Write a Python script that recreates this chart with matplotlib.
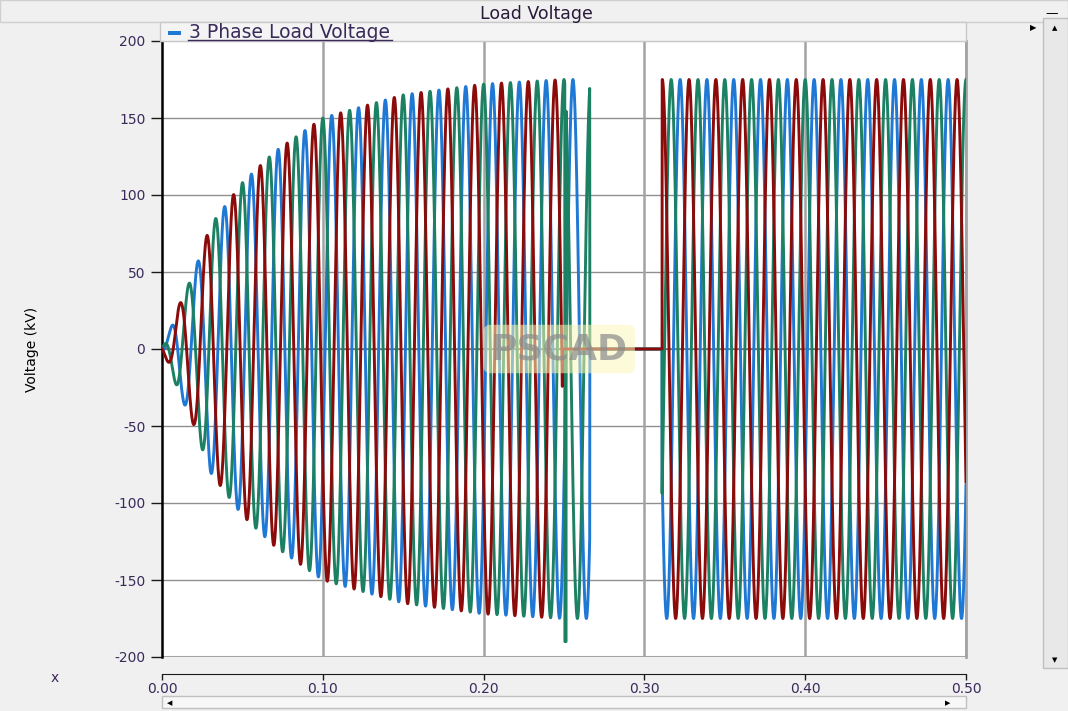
"""
PSCAD-style 3 phase load voltage plot
"""
import numpy as np
import matplotlib.pyplot as plt
from matplotlib.patches import Rectangle

freq = 60.0                      # Hz, ~27 px per cycle
env_t = [0.0, 0.005, 0.01, 0.02, 0.03, 0.05, 0.07, 0.10, 0.15, 0.20, 0.25, 0.27]
env_kv = [0.0, 12, 27, 50, 80, 108, 128, 150, 165, 172, 175, 175]
steady_kv = 175.0
t_open = {'A': 0.266, 'B': 0.249, 'C': 0.266}   # phase drops out
t_reclose = 0.311
phase_deg = {'A': -30, 'B': -150, 'C': 90}
phase_color = {'A': '#1f78d4', 'B': '#8b0a0a', 'C': '#1c8063'}
dip_t = 0.2505
dip_kv = -190.0

yticks = [200, 150, 100, 50, 0, -50, -100, -150, -200]
xticks = [0.0, 0.1, 0.2, 0.3, 0.4, 0.5]

t = np.arange(0, 0.5, 2e-5)
amp = np.where(t < t_reclose, np.interp(t, env_t, env_kv), steady_kv)

fig = plt.figure(figsize=(10.68, 7.11), dpi=100, facecolor='#f0f0f0')
ax = fig.add_axes([162/1068, 1 - 657/711, 804/1068, 616/711])
ax.set_facecolor('white')

for ph in ['A', 'C', 'B']:
    v = amp * np.sin(2*np.pi*freq*t + np.deg2rad(phase_deg[ph]))
    v[(t >= t_open[ph]) & (t < t_reclose)] = 0.0
    if ph == 'C':
        i = np.searchsorted(t, dip_t)
        v[i:i+40] = np.minimum(v[i:i+40], dip_kv)
    ax.plot(t, v, color=phase_color[ph], lw=2.1, zorder=3)

ax.set_xlim(0, 0.5)
ax.set_ylim(-200, 200)
ax.set_yticks(yticks)
ax.set_xticks(xticks)
ax.set_yticklabels([str(y) for y in yticks])
ax.set_xticklabels([f"{x:.2f}" for x in xticks])
ax.tick_params(axis='both', colors='#1a1a1a', labelcolor='#3a2a5a', labelsize=10)
ax.tick_params(axis='y', length=8, width=1, pad=4)
ax.tick_params(axis='x', length=4, width=1, pad=2, direction='out')

for y in yticks[1:-1]:
    ax.axhline(y, color='#8f8f8f', lw=1, zorder=1)
for x in xticks[1:]:
    ax.axvline(x, color='#a3a3a3', lw=1.8, zorder=1)
ax.axhline(-200, color='#a3a3a3', lw=1.5, zorder=1)
ax.axhline(0, color='#707070', lw=1.2, zorder=1)

ax.spines['left'].set_color('black')
ax.spines['left'].set_linewidth(1.8)
ax.spines['top'].set_color('#b0b0b0')
ax.spines['right'].set_color('#a3a3a3')
ax.spines['right'].set_linewidth(2)
ax.spines['bottom'].set_position(('outward', 12))
ax.spines['bottom'].set_color('#1a1a1a')

fig.text(32/1068, 1 - 349/711, 'Voltage (kV)', rotation=90, ha='center', va='center',
         fontsize=10, color='black', family=['Liberation Sans Narrow', 'DejaVu Sans'])

# watermark
ax.text(0.247, 0, 'PSCAD', fontsize=26, fontweight='bold', color='#8a8a8a', alpha=0.7,
        ha='center', va='center', zorder=4,
        bbox=dict(boxstyle='round,pad=0.2', fc='#faf6b8', ec='none', alpha=0.55))

# window chrome
fig.patches.append(Rectangle((0, 1 - 22/711), 1, 22/711, transform=fig.transFigure,
                             fc='#f0f0f0', ec='#d0d0d0', lw=1))
fig.patches.append(Rectangle((160/1068, 1 - 41/711), 806/1068, 19/711,
                             transform=fig.transFigure, fc='#f4f4f4', ec='#c8c8c8', lw=1))
fig.text(536/1068, 1 - 14/711, 'Load Voltage', ha='center', va='center',
         fontsize=12.5, color='#2a1a3a')
fig.patches.append(Rectangle((168/1068, 1 - 35/711), 13/1068, 4/711,
                             transform=fig.transFigure, fc='#1f78d4', ec='none'))
fig.text(189/1068, 1 - 32/711, '3 Phase Load Voltage', ha='left', va='center',
         fontsize=13.5, color='#3a2a5a')
fig.add_artist(plt.Line2D([188/1068, 392/1068], [1 - 40/711, 1 - 40/711],
                          color='#3a2a5a', lw=1))
fig.text(55/1068, 1 - 678/711, 'x', ha='center', va='center', fontsize=10, color='#3a2a5a')

# scrollbars
fig.patches.append(Rectangle((1043/1068, 43/711), 25/1068, 650/711, transform=fig.transFigure,
                             fc='#e8e8e8', ec='#c0c0c0', lw=1))
fig.text(1055/1068, 1 - 28/711, '▲', ha='center', va='center', fontsize=5, color='black')
fig.text(1055/1068, 1 - 660/711, '▼', ha='center', va='center', fontsize=5, color='black')
fig.text(1052/1068, 1 - 14/711, '—', ha='center', va='center', fontsize=9, color='black')
fig.text(1033/1068, 1 - 28/711, '▶', ha='center', va='center', fontsize=6, color='black')
fig.patches.append(Rectangle((162/1068, 3/711), 804/1068, 12/711, transform=fig.transFigure,
                             fc='#f7f7f7', ec='#c0c0c0', lw=1))
fig.text(170/1068, 1 - 703/711, '◀', ha='center', va='center', fontsize=5, color='black')
fig.text(948/1068, 1 - 703/711, '▶', ha='center', va='center', fontsize=5, color='black')

plt.savefig('out.png', dpi=100, facecolor=fig.get_facecolor())
